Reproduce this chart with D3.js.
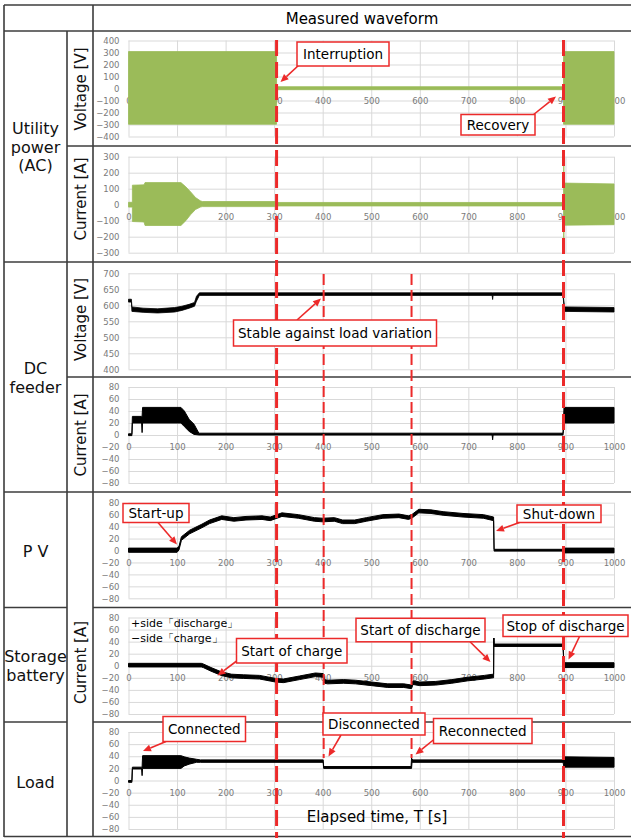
<!DOCTYPE html>
<html>
<head>
<meta charset="utf-8">
<script src="https://cdn.jsdelivr.net/npm/d3@7"></script>
<style>
body { margin: 0; background: #fff; }
text { font-family: "DejaVu Sans", Verdana, sans-serif; }
</style>
</head>
<body>
<script>
// ---- data ----
var timeTicks = [0, 100, 200, 300, 400, 500, 600, 700, 800, 900, 1000];
var acVoltTicks = [-400, -300, -200, -100, 0, 100, 200, 300, 400];
var acCurTicks = [-300, -200, -100, 0, 100, 200, 300];
var dcVoltTicks = [400, 450, 500, 550, 600, 650, 700];
var curTicks = [-80, -60, -40, -20, 0, 20, 40, 60, 80];

// utility voltage envelope (green band)
var acVoltT  = [0, 305, 305, 896, 896, 1000];
var acVoltHi = [308, 308, 15, 15, 308, 308];
var acVoltLo = [-298, -298, -10, -10, -298, -298];

// utility current envelope
var acCurT  = [0, 8, 8, 32, 34, 108, 118, 128, 138, 148, 152, 305, 306, 896, 896.5, 897, 1000];
var acCurHi = [15, 15, 122, 124, 138, 138, 112, 80, 45, 24, 20, 20, 14, 14, 300, 135, 130];
var acCurLo = [-15, -15, -105, -108, -130, -130, -100, -62, -30, -15, -12, -12, -8, -8, -300, -128, -125];

// DC feeder voltage
var dcVoltT  = [0, 6, 7, 30, 60, 95, 110, 125, 136, 140, 146, 749, 750, 751, 895, 898, 1000];
var dcVoltHi = [619, 619, 595, 591, 589, 593, 597, 603, 609, 628, 639, 639, 639, 639, 639, 595, 593];
var dcVoltLo = [610, 610, 581, 578, 576, 579, 584, 591, 597, 613, 631, 631, 618, 631, 631, 581, 579];

// DC feeder current
var dcCurT  = [0, 7, 8, 27, 28, 29, 108, 115, 125, 135, 145, 749, 750, 751, 895, 897, 1000];
var dcCurHi = [2, 2, 31, 31, 31, 46, 46, 40, 26, 18, 3, 3, 3, 3, 3, 46, 46];
var dcCurLo = [-1, -1, 20, 20, 4, 20, 20, 14, 6, 1, 0, 0, -8, 0, 0, 20, 20];

// PV current
var pvT  = [0, 100, 104, 109, 126, 151, 167, 192, 217, 242, 275, 292, 316, 350, 383, 400, 424, 441, 466, 490, 524, 557, 577, 585, 598, 623, 648, 689, 731, 752, 753, 898, 899, 1000];
var pvHi = [4, 4, 7, 23, 34, 44, 51, 58, 55, 57, 58, 56, 63, 60, 55, 54, 55, 51, 51, 55, 60, 61, 58, 61, 69, 68, 65, 62, 60, 56, 2, 2, 4, 4];
var pvLo = [-3, -3, 1, 17, 28, 38, 45, 52, 49, 51, 52, 50, 57, 54, 49, 48, 49, 45, 45, 49, 54, 55, 52, 55, 63, 62, 59, 56, 54, 50, -1, -1, -4, -4];

// storage battery current
var sbT  = [0, 150, 154, 170, 191, 212, 237, 270, 303, 319, 352, 385, 401, 404, 410, 443, 468, 501, 534, 567, 583, 586, 600, 633, 666, 699, 733, 751, 752, 752.5, 753, 895, 897, 899, 1000];
var sbHi = [4, 4, 3, -3, -10, -14, -15, -16, -21, -22, -17, -12, -13, -23, -24, -23, -24, -27, -30, -30, -32, -25, -27, -26, -23, -19, -16, -14, -14, 46, 36, 36, 1, 5, 5];
var sbLo = [-2, -2, -3, -9, -16, -20, -21, -22, -27, -28, -23, -18, -19, -29, -30, -29, -30, -33, -36, -36, -38, -31, -33, -32, -29, -25, -22, -20, -20, 46, 32, 32, -4, -3, -3];

// load current
var ldT  = [0, 7, 8, 27, 28, 29, 108, 115, 125, 140, 148, 401, 402, 582, 583, 584, 586, 895, 897, 1000];
var ldHi = [0, 0, 22, 22, 22, 41, 41, 39, 37, 35, 34, 34, 23, 23, 37, 35, 34, 34, 39, 38];
var ldLo = [-3, -3, 19, 19, 8, 20, 20, 24, 27, 30, 30, 30, 20, 20, 20, 30, 30, 30, 22, 22];

// events (s)
var majorEvents = [305, 896];   // interruption / recovery
var minorEvents = [402, 583];   // load disconnect / reconnect

var green = "#9bbb59", red = "#ec2a2a", lineCol = "#3c3c3c";

var svg = d3.select('body')
  .append('svg')
  .attr('width', 631)
  .attr('height', 838);

var x = d3.scaleLinear().domain([0, 1000]).range([128.5, 614]);

var panels = [
  {top: 40.5, bottom: 136.5, ticks: acVoltTicks, t: acVoltT, hi: acVoltHi, lo: acVoltLo, color: green, sw: 0.8, xlab: true},
  {top: 156.7, bottom: 252.7, ticks: acCurTicks, t: acCurT, hi: acCurHi, lo: acCurLo, color: green, sw: 0.8, xlab: true},
  {top: 273.3, bottom: 369.3, ticks: dcVoltTicks, t: dcVoltT, hi: dcVoltHi, lo: dcVoltLo, color: "#000", sw: 0.8, xlab: false},
  {top: 387, bottom: 483, ticks: curTicks, t: dcCurT, hi: dcCurHi, lo: dcCurLo, color: "#000", sw: 1, xlab: true},
  {top: 502.7, bottom: 598.3, ticks: curTicks, t: pvT, hi: pvHi, lo: pvLo, color: "#000", sw: 1, xlab: true},
  {top: 617.5, bottom: 714, ticks: curTicks, t: sbT, hi: sbHi, lo: sbLo, color: "#000", sw: 1, xlab: true},
  {top: 732, bottom: 829, ticks: curTicks, t: ldT, hi: ldHi, lo: ldLo, color: "#000", sw: 1, xlab: true}
];

panels.forEach(function(p) {
  var y = d3.scaleLinear()
    .domain([p.ticks[0], p.ticks[p.ticks.length - 1]])
    .range([p.bottom, p.top]);
  var g = svg.append('g');

  // grid
  g.append('g')
    .attr('transform', 'translate(' + x.range()[0] + ',0)')
    .call(d3.axisLeft(y).tickValues(p.ticks).tickSize(-(x.range()[1] - x.range()[0])).tickFormat(''))
    .call(function(s) { s.select('.domain').remove(); s.selectAll('line').attr('stroke', '#d9d9d9'); });
  g.append('g')
    .attr('transform', 'translate(0,' + p.bottom + ')')
    .call(d3.axisBottom(x).tickValues(timeTicks).tickSize(-(p.bottom - p.top)).tickFormat(''))
    .call(function(s) { s.select('.domain').remove(); s.selectAll('line').attr('stroke', '#d9d9d9'); });

  // y tick labels
  g.append('g')
    .attr('transform', 'translate(' + x.range()[0] + ',0)')
    .call(d3.axisLeft(y).tickValues(p.ticks).tickSize(0).tickPadding(9).tickFormat(d3.format('d')))
    .call(function(s) {
      s.select('.domain').remove();
      s.selectAll('text').attr('fill', '#7a7a7a').style('font-size', '8.5px')
        .style('font-family', '"DejaVu Sans", Verdana, sans-serif');
    });

  // x tick labels sit on the zero line
  if (p.xlab) {
    g.append('g')
      .attr('transform', 'translate(0,' + y(0) + ')')
      .call(d3.axisBottom(x).tickValues(timeTicks).tickSize(0).tickPadding(9).tickFormat(d3.format('d')))
      .call(function(s) {
        s.select('.domain').remove();
        s.selectAll('text').attr('fill', '#7a7a7a').style('font-size', '8.5px')
          .style('font-family', '"DejaVu Sans", Verdana, sans-serif');
      });
  }

  // waveform band
  var area = d3.area()
    .x(function(i) { return x(p.t[i]); })
    .y0(function(i) { return y(p.lo[i]); })
    .y1(function(i) { return y(p.hi[i]); });
  g.append('path')
    .datum(d3.range(p.t.length))
    .attr('d', area)
    .attr('fill', p.color)
    .attr('stroke', p.color)
    .attr('stroke-width', p.sw)
    .attr('stroke-linejoin', 'round');
});

// table frame
var hLines = [
  [4, 631, 5], [4, 631, 31], [67, 631, 146], [4, 631, 262], [67, 631, 377],
  [4, 631, 492], [4, 67, 607.5], [93, 631, 607.5], [4, 67, 722], [93, 631, 722], [4, 631, 836.5]
];
var vLines = [[4, 5, 837], [67, 31, 837], [93, 5, 837]];
hLines.forEach(function(l) {
  svg.append('line').attr('x1', l[0]).attr('x2', l[1]).attr('y1', l[2]).attr('y2', l[2])
    .attr('stroke', lineCol).attr('stroke-width', 1.6);
});
vLines.forEach(function(l) {
  svg.append('line').attr('x1', l[0]).attr('x2', l[0]).attr('y1', l[1]).attr('y2', l[2])
    .attr('stroke', lineCol).attr('stroke-width', 1.6);
});

// headings
svg.append('text').attr('x', 362).attr('y', 24).attr('text-anchor', 'middle')
  .style('font-size', '15px').text('Measured waveform');

var rowLabels = [
  {lines: ['Utility', 'power', '(AC)'], y: [134, 152.5, 171]},
  {lines: ['DC', 'feeder'], y: [373.5, 393]},
  {lines: ['P V'], y: [556.5]},
  {lines: ['Storage', 'battery'], y: [661.5, 680.5]},
  {lines: ['Load'], y: [787.5]}
];
rowLabels.forEach(function(r) {
  r.lines.forEach(function(s, i) {
    svg.append('text').attr('x', 35.5).attr('y', r.y[i]).attr('text-anchor', 'middle')
      .style('font-size', '16px').attr('fill', '#111').text(s);
  });
});

var axisLabels = [
  {text: 'Voltage [V]', y: 89},
  {text: 'Current [A]', y: 199},
  {text: 'Voltage [V]', y: 319.5},
  {text: 'Current [A]', y: 435},
  {text: 'Current [A]', y: 662.5}
];
axisLabels.forEach(function(a) {
  svg.append('text')
    .attr('transform', 'translate(86,' + a.y + ') rotate(-90)')
    .attr('text-anchor', 'middle')
    .style('font-size', '15px').attr('fill', '#111')
    .text(a.text);
});

// event markers
majorEvents.forEach(function(t) {
  svg.append('line').attr('x1', x(t)).attr('x2', x(t)).attr('y1', 40).attr('y2', 838)
    .attr('stroke', red).attr('stroke-width', 3).attr('stroke-dasharray', '16,6');
});
minorEvents.forEach(function(t) {
  svg.append('line').attr('x1', x(t)).attr('x2', x(t)).attr('y1', 274).attr('y2', 758)
    .attr('stroke', red).attr('stroke-width', 2).attr('stroke-dasharray', '11,5');
});

// battery sign note
svg.append('text').attr('x', 131).attr('y', 627).style('font-size', '11px').text('+side「discharge」');
svg.append('text').attr('x', 131).attr('y', 642).style('font-size', '11px').text('−side「charge」');

// callouts: box [x, y, w, h], arrow from -> tip
var notes = [
  {text: 'Interruption', box: [297, 42, 92, 24], from: [299, 65], tip: [280.5, 82]},
  {text: 'Recovery', box: [461, 114.5, 74, 20.5], from: [533, 115], tip: [556, 96.5]},
  {text: 'Stable against load variation', box: [233.5, 320, 203, 26], from: [297, 320], tip: [321, 298.5]},
  {text: 'Start-up', box: [123, 503.5, 66, 19], from: [158, 522.5], tip: [177, 544.5]},
  {text: 'Shut-down', box: [517, 505, 84, 17.5], from: [519.5, 522.5], tip: [496, 531]},
  {text: 'Start of charge', box: [236.5, 638.5, 110.5, 24.5], from: [238, 660], tip: [217.5, 675.5]},
  {text: 'Start of discharge', box: [356, 618.3, 129, 23.5], from: [470, 641.8], tip: [490.5, 662]},
  {text: 'Stop of discharge', box: [503, 615, 125, 21.5], from: [579.5, 636.5], tip: [568.5, 659.5]},
  {text: 'Connected', box: [163, 716.5, 82.5, 25], from: [166, 741.5], tip: [143, 751]},
  {text: 'Disconnected', box: [323, 713, 102, 22], from: [341, 735], tip: [328.5, 756.5]},
  {text: 'Reconnected', box: [433.5, 718.5, 98.5, 25], from: [437, 737], tip: [415.5, 754.5]}
];
notes.forEach(function(n) {
  var dx = n.tip[0] - n.from[0], dy = n.tip[1] - n.from[1];
  var len = Math.sqrt(dx * dx + dy * dy), ux = dx / len, uy = dy / len;
  var hl = 8, hw = 3.5;
  var bx = n.tip[0] - ux * hl, by = n.tip[1] - uy * hl;
  svg.append('line').attr('x1', n.from[0]).attr('y1', n.from[1]).attr('x2', bx).attr('y2', by)
    .attr('stroke', red).attr('stroke-width', 1.6);
  svg.append('path')
    .attr('d', 'M' + n.tip[0] + ',' + n.tip[1] + 'L' + (bx - uy * hw) + ',' + (by + ux * hw) +
      'L' + (bx + uy * hw) + ',' + (by - ux * hw) + 'Z')
    .attr('fill', red);
  svg.append('rect').attr('x', n.box[0]).attr('y', n.box[1]).attr('width', n.box[2]).attr('height', n.box[3])
    .attr('fill', '#fff').attr('stroke', red).attr('stroke-width', 1.5);
  svg.append('text').attr('x', n.box[0] + n.box[2] / 2).attr('y', n.box[1] + n.box[3] / 2 + 5)
    .attr('text-anchor', 'middle').style('font-size', '13.5px').text(n.text);
});

// x axis title
svg.append('text').attr('x', 377).attr('y', 822).attr('text-anchor', 'middle')
  .style('font-size', '15px').text('Elapsed time, T [s]');
</script>
</body>
</html>
